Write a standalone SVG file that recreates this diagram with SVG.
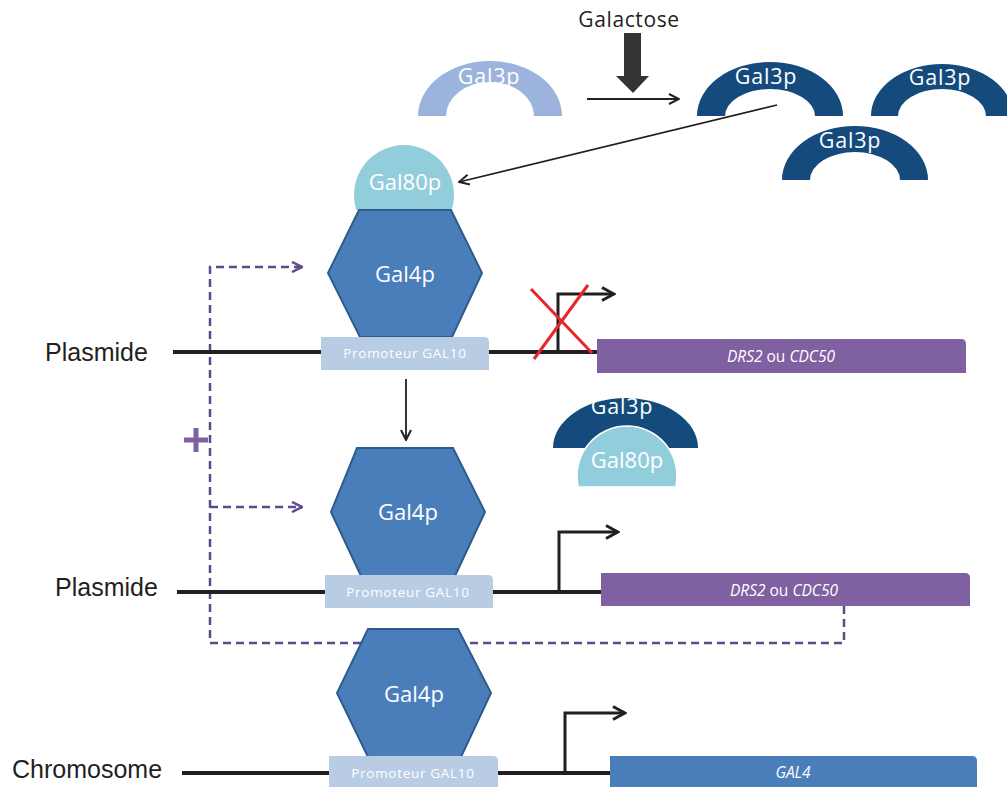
<svg xmlns="http://www.w3.org/2000/svg" width="1007" height="787" viewBox="0 0 1007 787">
<style>
.lbl{font-family:"Liberation Sans",Arial,sans-serif;font-size:25px;fill:#231f20}
.w{font-family:"Open Sans",Lato,sans-serif;fill:#fff;text-anchor:middle}
.p{font-size:21.5px;letter-spacing:0.8px}
.prom{font-size:13.5px;letter-spacing:0.7px}
.gene{font-size:15.5px}
.dna{stroke:#231f20;stroke-width:4;fill:none}
.tss{stroke:#231f20;stroke-width:3;fill:none}
.thin{stroke:#231f20;stroke-width:1.8;fill:none}
.dash{stroke:#5f4b8b;stroke-width:2.5;fill:none;stroke-dasharray:8 5}
.hex{fill:#4a7ebb;stroke:#2d5b8c;stroke-width:2}
.promb{fill:#b8cce4}
.gene1{fill:#7f60a0}
.dark{fill:#154a7c}
.g80{fill:#92cddc}
</style>
<defs>
<marker id="chev" viewBox="0 0 12 12" refX="11" refY="6" markerWidth="12" markerHeight="12" markerUnits="userSpaceOnUse" orient="auto">
<path d="M1,1 L11,6 L1,11" fill="none" stroke="#231f20" stroke-width="2"/>
</marker>
<marker id="chevB" viewBox="0 0 16 16" refX="14" refY="8" markerWidth="16" markerHeight="16" markerUnits="userSpaceOnUse" orient="auto">
<path d="M2,1.5 L14,8 L2,14.5" fill="none" stroke="#231f20" stroke-width="3"/>
</marker>
<marker id="chevP" viewBox="0 0 12 12" refX="11" refY="6" markerWidth="12" markerHeight="12" markerUnits="userSpaceOnUse" orient="auto">
<path d="M1,1 L11,6 L1,11" fill="none" stroke="#5f4b8b" stroke-width="2.5"/>
</marker>
</defs>

<g id="connectors">
<path class="dash" d="M844,606 V643 H210 V267 H302" marker-end="url(#chevP)"/>
<path class="dash" d="M210,507 H302" marker-end="url(#chevP)"/>
<path class="thin" d="M587,99 H679" marker-end="url(#chev)"/>
<path class="thin" d="M777,105 L459,182" marker-end="url(#chev)"/>
<path class="thin" d="M406,379 V440" marker-end="url(#chev)"/>
</g>

<g id="galactose">
<text x="629" y="27" font-family="'Open Sans',Lato,sans-serif" font-size="21" letter-spacing="0.6" fill="#231f20" text-anchor="middle">Galactose</text>
<path d="M624,33 H641 V76 H649 L633,93 L616,76 H624 Z" fill="#333"/>
</g>

<g id="gal3p-inactive">
<path d="M418,116 A72,55 0 0 1 562,116 L534,116 A44,34 0 0 0 446,116 Z" fill="#9cb4dd"/>
<text class="w p" x="489" y="84">Gal3p</text>
</g>
<g id="gal3p-a">
<path d="M697,116 A73,54 0 0 1 843,116 L815,116 A45,27 0 0 0 725,116 Z" class="dark"/>
<text class="w p" x="766" y="84">Gal3p</text>
</g>
<g id="gal3p-b">
<path d="M871,116 A71,52 0 0 1 1013,116 L986,116 A44,27 0 0 0 898,116 Z" class="dark"/>
<text class="w p" x="940" y="85">Gal3p</text>
</g>
<g id="gal3p-c">
<path d="M782,180 A73,54 0 0 1 928,180 L900,180 A45,28 0 0 0 810,180 Z" class="dark"/>
<text class="w p" x="850" y="148">Gal3p</text>
</g>

<g id="plasmide1">
<text class="lbl" x="45" y="361" font-size="26.5">Plasmide</text>
<path class="dna" d="M173,352 H598"/>
<path class="tss" d="M558,352 V294 H614" marker-end="url(#chevB)"/>
<path d="M531,289 L592,353 M588,285 L534,359" stroke="#e8262a" stroke-width="3" fill="none"/>
<path class="gene1" d="M597,339 H961 Q966,339 966,344 V373 H597 Z"/>
<text class="w gene" x="781" y="362"><tspan font-style="italic">DRS2</tspan> ou <tspan font-style="italic">CDC50</tspan></text>
</g>

<g id="gal80p-top">
<path class="g80" d="M356.3,210 A50,50 0 1 1 451.7,210 Z"/>
<text class="w" x="405" y="190" font-size="22">Gal80p</text>
</g>
<g id="gal4p-1">
<polygon class="hex" points="359,210 451,210 482,273 452,337 360,337 328,273"/>
<text class="w" x="405" y="282" font-size="22">Gal4p</text>
</g>
<g id="promoteur1">
<path class="promb" d="M321,337 H484 Q489,337 489,342 V370 H321 Z"/>
<text class="w prom" x="405" y="358">Promoteur GAL10</text>
</g>

<g id="complex">
<path class="dark" d="M553,448 A72.5,50 0 0 1 698,448 Z"/>
<path class="g80" d="M578.2,487 A50,50 0 1 1 675.8,487 Z" stroke="#fff" stroke-width="1.5"/>
<text class="w p" x="622" y="414">Gal3p</text>
<text class="w" x="627" y="468" font-size="22">Gal80p</text>
</g>

<g id="plasmide2">
<text class="lbl" x="55" y="596" font-size="26.5">Plasmide</text>
<path class="dna" d="M177,592 H601"/>
<path class="tss" d="M559,592 V532 H618" marker-end="url(#chevB)"/>
<path class="gene1" d="M601,573 H965 Q970,573 970,578 V606 H601 Z"/>
<text class="w gene" x="784" y="596"><tspan font-style="italic">DRS2</tspan> ou <tspan font-style="italic">CDC50</tspan></text>
</g>
<g id="gal4p-2">
<polygon class="hex" points="357,448 453,448 485,512 455,576 361,576 331,512"/>
<text class="w" x="408" y="520" font-size="22">Gal4p</text>
</g>
<g id="promoteur2">
<path class="promb" d="M325,575 H488 Q493,575 493,580 V608 H325 Z"/>
<text class="w prom" x="408" y="597">Promoteur GAL10</text>
</g>

<g id="chromosome">
<text class="lbl" x="12" y="778" font-size="25.5">Chromosome</text>
<path class="dna" d="M182,773 H610"/>
<path class="tss" d="M565,773 V713 H625" marker-end="url(#chevB)"/>
<path d="M610,756 H972 Q977,756 977,761 V790 H610 Z" fill="#4a7ebb"/>
<text class="w gene" x="793" y="778" font-style="italic">GAL4</text>
</g>
<g id="gal4p-3">
<polygon class="hex" points="368,629 458,629 491,693 461,757 368,757 337,693"/>
<text class="w" x="414" y="702" font-size="22">Gal4p</text>
</g>
<g id="promoteur3">
<path class="promb" d="M329,756 H493 Q498,756 498,761 V790 H329 Z"/>
<text class="w prom" x="413" y="778">Promoteur GAL10</text>
</g>

<g id="plus">
<path d="M184,440 H208 M196,428 V452" stroke="#7f60a0" stroke-width="5" fill="none"/>
</g>
</svg>
